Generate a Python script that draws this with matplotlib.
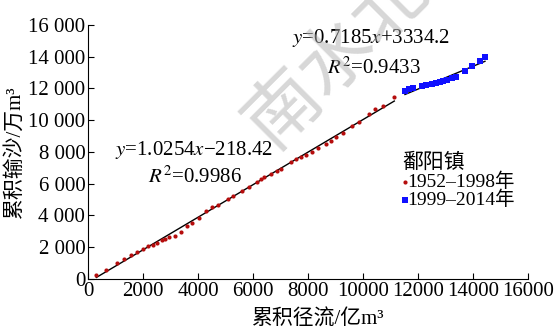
import matplotlib.pyplot as plt
from matplotlib.ticker import FuncFormatter

# 鄱阳镇 cumulative runoff (亿m³) vs cumulative sediment (万m³)
RUNOFF_1952_1998 = [302, 636, 1044, 1316, 1564, 1789, 2011, 2193, 2353, 2502,
                    2702, 2811, 2945, 3145, 3364, 3593, 3771, 4047, 4302, 4509,
                    4709, 5073, 5265, 5607, 5862, 6134, 6284, 6393, 6643, 6862,
                    7018, 7364, 7564, 7738, 7909, 8134, 8375, 8655, 8829, 9018,
                    9262, 9600, 9862, 10200, 10454, 10727, 11138]
SEDIMENT_1952_1998 = [252, 554, 989, 1272, 1493, 1682, 1909, 2066, 2142, 2249,
                      2438, 2532, 2627, 2728, 2961, 3326, 3496, 3855, 4252, 4516,
                      4642, 5039, 5209, 5556, 5814, 6123, 6280, 6394, 6627, 6790,
                      6942, 7370, 7527, 7653, 7779, 8000, 8220, 8491, 8705, 8926,
                      9216, 9619, 9890, 10381, 10689, 10910, 11483]
RUNOFF_1999_2014 = [11527, 11673, 11829, 12156, 12291, 12498, 12665, 12800,
                    12920, 13044, 13225, 13393, 13709, 13953, 14255, 14436]
SEDIMENT_1999_2014 = [11842, 11950, 12031, 12157, 12220, 12302, 12365, 12428,
                      12491, 12554, 12642, 12724, 13083, 13417, 13732, 13984]

# linear fits: slope, intercept, R²
FIT_EARLY = (1.0254, -218.42, 0.9986)
FIT_LATE = (0.7185, 3334.2, 0.9433)

plt.rcParams['mathtext.fontset'] = 'stix'
SERIF = ['Liberation Serif', 'Noto Sans CJK SC']
plt.rcParams['font.family'] = SERIF

fig = plt.figure(figsize=(5.54, 3.32), dpi=100)
ax = fig.add_axes([0.159, 0.160, 0.794, 0.765])

ax.scatter(RUNOFF_1952_1998, SEDIMENT_1952_1998, s=9, marker='o',
           color='#b50d0d', linewidths=0, label='1952–1998年', zorder=3)
ax.scatter(RUNOFF_1999_2014, SEDIMENT_1999_2014, s=14, marker='s',
           color='#1010ff', linewidths=0, label='1999–2014年', zorder=3)

for xs, (k, b, _) in [(RUNOFF_1952_1998, FIT_EARLY), (RUNOFF_1999_2014, FIT_LATE)]:
    x0, x1 = xs[0], xs[-1]
    ax.plot([x0, x1], [k * x0 + b, k * x1 + b], color='black', lw=1.0, zorder=2)

ax.text(982, 7811, r'$y$=1.0254$x$−218.42', fontsize=15, ha='left', va='baseline')
ax.text(2182, 6047, r'$R^2$=0.9986', fontsize=15, ha='left', va='baseline')
ax.text(7418, 14866, r'$y$=0.7185$x$+3334.2', fontsize=15, ha='left', va='baseline')
ax.text(8691, 12913, r'$R^2$=0.9433', fontsize=15, ha='left', va='baseline')

ax.set_xlim(0, 16000)
ax.set_ylim(0, 16000)
ax.set_xticks(range(0, 16001, 2000))
ax.set_yticks(range(0, 16001, 2000))
ax.yaxis.set_major_formatter(FuncFormatter(lambda v, p: f'{int(v):,}'.replace(',', ' ')))
ax.tick_params(direction='in', length=4, width=0.8, labelsize=15, pad=2)
for side in ['top', 'right']:
    ax.spines[side].set_visible(False)

ax.set_xlabel('累积径流/亿m³', fontsize=15)
ax.xaxis.set_label_coords(0.523, -0.12)
ax.set_ylabel('累积输沙/万m³', fontsize=15, labelpad=2)

leg = ax.legend(title='鄱阳镇', loc='upper left', bbox_to_anchor=(0.715, 0.495),
                frameon=False, fontsize=14, title_fontsize=15, handlelength=0.2,
                handletextpad=0.05, labelspacing=0.0, borderpad=0, borderaxespad=0,
                alignment='left', markerscale=1.0)

# journal watermark
fig.text(0.655, 0.91, '南水北调', fontsize=54, color='#b0b0b0', alpha=0.5,
         rotation=45, rotation_mode='anchor', ha='center', va='center',
         family='Noto Sans CJK SC', fontweight='light', zorder=10)

fig.savefig('out.png', dpi=100)
